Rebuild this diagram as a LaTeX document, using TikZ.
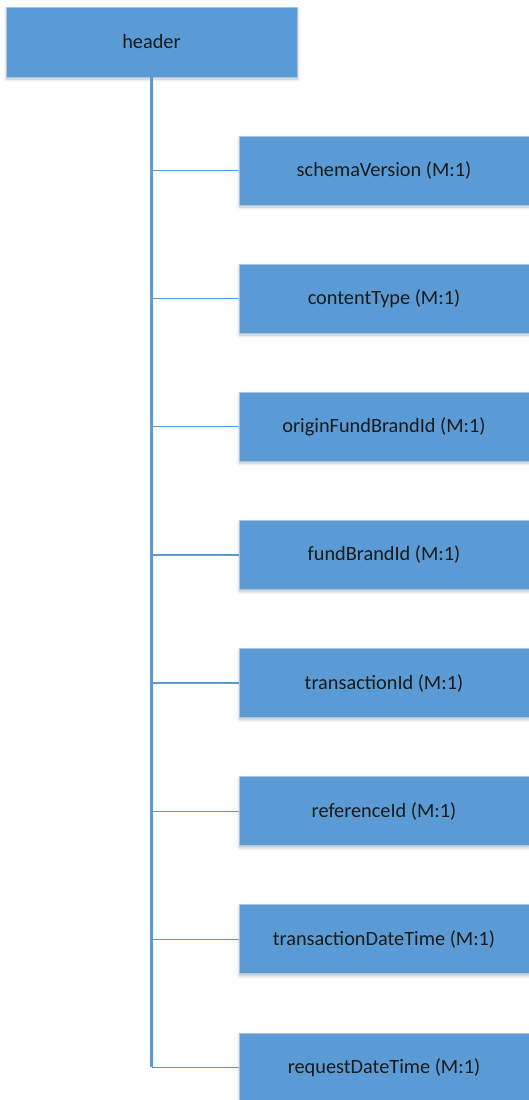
\documentclass[tikz,border=0pt]{standalone}
\usepackage{fontspec}
\setmainfont{Carlito}
\usetikzlibrary{shadows.blur}
\definecolor{boxblue}{HTML}{5B9BD5}
\definecolor{boxedge}{HTML}{A7C4E2}
\definecolor{linkblue}{HTML}{5B9BD5}
\definecolor{labelink}{HTML}{1A1A1A}
\begin{document}
\begin{tikzpicture}[x=1pt,y=-1pt,
  field/.style={rectangle, fill=boxblue, draw=boxedge, line width=0.8pt,
    minimum width=290pt, minimum height=69pt, inner sep=0pt,
    text=labelink, font=\fontsize{20.3pt}{24pt}\selectfont,
    blur shadow={shadow xshift=0.5pt, shadow yshift=-2pt,
      shadow blur radius=3pt, shadow blur steps=6, shadow opacity=25}},
  link/.style={draw=linkblue, line width=1.4pt},
  trunk/.style={draw=linkblue, line width=2.2pt, line join=miter}]
\useasboundingbox (0,0) rectangle (528,1100);

% root element
\node[field, minimum width=291pt, minimum height=70pt] (root) at (151.5,42) {header};

% child elements
\foreach \lbl/\nm [count=\i from 0] in {
  schemaVersion (M:1)/c0,
  contentType (M:1)/c1,
  originFundBrandId (M:1)/c2,
  fundBrandId (M:1)/c3,
  transactionId (M:1)/c4,
  referenceId (M:1)/c5,
  transactionDateTime (M:1)/c6,
  requestDateTime (M:1)/c7}{
  \pgfmathsetmacro{\cy}{170.5+128.14*\i}
  \node[field] (\nm) at (384,\cy) {\lbl};
}

% tree connectors
\coordinate (trunkend) at (root.south |- c7.west);
\draw[trunk] (root.south) -- (trunkend);
\foreach \nm in {c0,c1,c2,c3,c4,c5,c6,c7}{
  \draw[link] (root.south |- \nm.west) -- (\nm.west);
}
\end{tikzpicture}
\end{document}
